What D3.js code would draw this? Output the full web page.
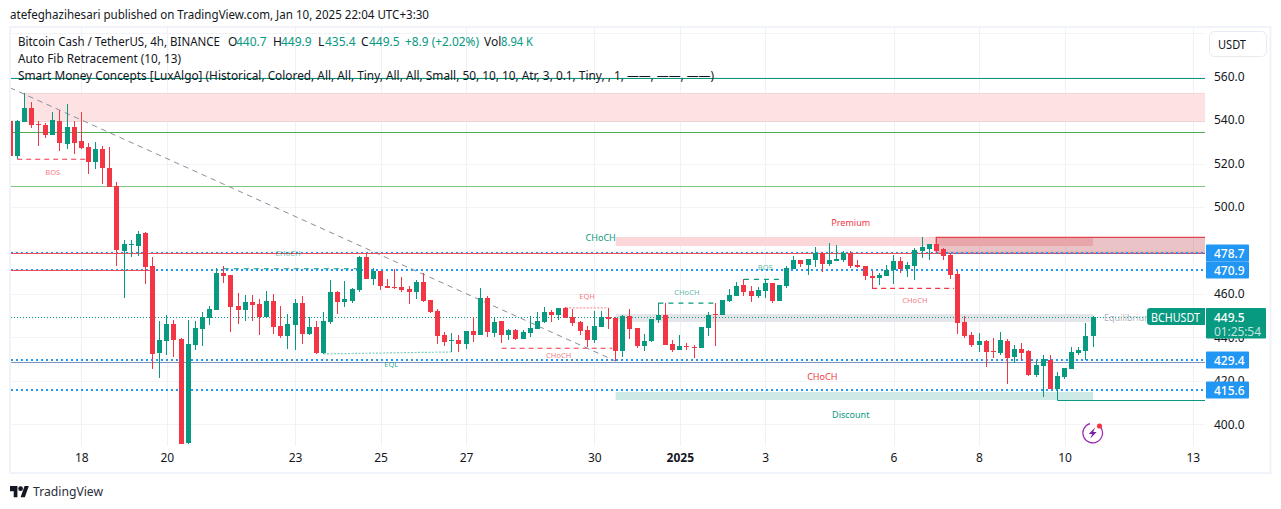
<!DOCTYPE html>
<html><head><meta charset="utf-8">
<script src="https://cdn.jsdelivr.net/npm/d3@7"></script>
<style>
html,body{margin:0;padding:0;background:#fff}
svg{display:block}
text{font-family:"Noto Sans","Open Sans",sans-serif}
</style></head><body><div id="c"></div>
<script>
const firstBar=-10;
const opens=[539.7,523.7,539.3,545.7,538.3,537.9,533.3,539.7,529.1,537.0,530.5,527.7,520.8,526.8,518.1,509.8,479.8,482.6,482.1,488.1,472.9,432.8,438.4,446.2,439.3,391.3,436.5,443.9,448.9,452.6,469.7,468.8,454.5,452.6,456.3,455.4,449.4,456.8,445.3,440.7,445.7,455.9,441.6,444.8,432.8,447.1,460.9,456.3,456.8,461.8,477.1,466.9,470.6,463.7,463.2,463.2,462.3,460.9,465.5,457.2,452.2,441.1,438.4,438.8,437.0,443.0,441.1,458.2,442.0,447.6,441.1,443.4,439.3,442.0,443.9,447.1,451.7,450.3,453.6,449.4,447.1,443.4,438.8,444.8,449.4,448.9,433.7,449.9,444.3,436.0,438.4,448.0,450.3,437.0,434.1,436.0,435.5,435.1,444.3,450.8,450.3,456.8,459.1,464.2,461.4,459.1,461.4,465.1,456.8,463.7,471.5,475.7,473.4,475.7,478.9,473.8,475.2,475.7,478.9,473.4,472.9,468.3,467.4,468.3,471.1,475.2,471.5,472.9,479.8,480.7,483.0,480.7,478.0,469.2,447.1,441.1,436.5,438.4,433.7,432.8,438.4,431.0,434.6,433.7,422.7,426.8,429.6,416.2,421.8,425.4,432.8,433.7,440.7];
const highs=[541.0,540.2,552.5,548.5,539.7,538.8,543.9,544.8,547.6,539.7,543.9,529.6,530.0,528.2,527.7,511.6,484.9,484.9,489.0,488.6,477.1,447.6,450.3,448.0,439.7,448.0,447.6,451.7,454.5,472.0,472.9,468.8,460.5,459.5,459.5,457.7,461.4,460.0,454.5,450.8,457.7,459.1,449.4,447.6,451.7,466.5,461.4,466.0,462.8,477.5,478.4,472.0,470.6,466.9,471.5,467.8,463.7,466.5,469.7,457.2,453.1,442.5,442.0,441.1,443.0,449.4,462.8,459.1,449.4,447.6,443.9,443.9,443.4,449.9,451.7,454.0,452.6,453.6,454.0,453.1,447.6,445.3,452.2,452.2,453.6,449.4,450.3,453.1,444.3,441.6,448.5,455.9,455.9,438.8,441.1,437.4,436.5,444.8,451.7,455.9,457.2,462.3,465.5,466.9,463.7,463.2,466.9,465.1,464.2,472.9,477.5,475.7,476.1,481.7,479.4,483.5,482.6,479.8,479.8,475.7,472.9,470.6,469.7,473.4,478.0,477.1,474.8,481.2,486.3,483.0,486.3,481.2,478.9,470.6,449.9,442.5,442.0,438.8,439.7,442.5,439.3,436.5,437.4,434.1,429.6,431.9,431.9,424.1,425.9,435.5,435.5,446.6,449.9];
const lows=[522.8,522.1,539.3,536.5,528.2,531.9,533.3,525.9,526.8,524.5,526.8,515.3,517.6,510.7,509.3,472.9,458.2,477.1,477.5,464.6,425.4,421.3,431.9,431.0,390.9,390.9,434.1,436.0,445.7,452.6,465.1,442.5,446.2,447.6,447.6,441.1,449.4,441.6,439.7,434.6,434.1,437.0,441.1,432.4,432.4,446.2,450.8,454.0,455.9,460.9,466.9,464.2,461.8,462.8,462.3,460.9,455.4,457.7,456.3,451.2,437.0,436.0,433.3,433.3,434.6,437.9,441.1,440.2,440.2,437.4,438.8,438.8,439.3,440.2,443.9,446.6,447.1,448.0,448.9,445.3,441.1,435.5,437.4,444.8,443.9,429.1,431.0,439.3,435.1,433.7,437.9,446.6,436.5,433.3,434.1,434.1,430.5,435.1,440.7,436.0,450.3,456.3,459.1,459.1,456.3,458.2,458.2,455.9,456.8,462.8,471.5,472.4,468.8,472.4,470.1,472.9,475.2,474.8,472.0,472.0,466.5,462.3,464.2,468.3,464.6,469.7,467.8,466.5,476.6,475.7,478.9,475.7,466.9,441.6,439.7,435.5,433.3,426.4,430.5,431.9,418.5,428.2,429.6,422.2,421.8,412.5,416.2,411.2,420.8,425.4,431.9,429.6,435.4];
const closes=[523.7,539.7,545.7,537.9,537.9,533.3,540.2,529.6,537.0,529.6,527.3,520.8,526.8,518.1,509.3,480.3,483.0,483.0,487.7,472.4,432.4,438.8,446.2,438.8,390.9,437.0,444.3,449.4,453.1,469.7,468.3,454.0,452.6,456.3,454.9,449.4,456.8,444.8,440.7,446.2,455.9,441.6,444.8,432.8,447.6,460.9,456.3,457.7,462.3,477.1,466.9,470.6,463.7,462.8,462.8,461.8,460.9,465.5,456.8,451.7,440.7,437.9,438.8,437.0,443.0,441.1,458.2,442.5,447.1,441.1,443.4,439.3,442.5,444.3,447.6,451.7,450.3,453.6,448.9,446.6,443.0,438.8,445.3,449.4,448.5,433.7,449.9,443.9,436.0,438.4,448.5,450.3,436.5,434.1,436.0,435.5,435.1,444.8,450.3,450.3,457.2,459.5,463.7,460.9,459.1,461.8,465.1,456.8,464.2,472.0,475.7,473.8,476.1,478.9,473.8,475.7,476.1,478.9,472.9,472.4,468.3,467.4,468.8,471.1,475.2,471.5,473.4,480.3,481.7,483.0,479.8,477.5,468.8,446.6,440.7,436.5,438.4,433.3,433.3,438.8,430.5,434.6,432.8,422.7,427.3,430.0,416.2,422.2,425.9,433.3,434.1,440.7,449.5];

const priceTicks=[400,420,440,460,500,520,540,560];
const gridPrices=[400,420,440,460,480,500,520,540,560,580];
const dayBars=[0,12,30,42,54,72,84,96,114,126,138,156];
const dayLabels=["18","20","23","25","27","30","2025","3","6","8","10","13"];

// horizontal levels: [price, colour]
const fibLevels=[[559.5,"#089981"],[534.6,"#4caf50"],[509.7,"#81c784"]];
const alertPrices=[478.7,470.9,429.4,415.6];
const alertLabels=["478.7","470.9","429.4","415.6"];
const equilibriumPrice=449.5;
// zones: [bar from, bar to, price top, price bottom, fill]
const zones=[
 [-8,"end",552.6,539.3,"#fce2e3"],
 [75,142,486.0,482.3,"#fcd7da"],
 [75,142,451.0,447.3,"#e3e5e8"],
 [75,142,415.0,411.3,"#cdeae6"]
];
// structure lines: [bar from, bar to, price, colour, dash]
const structure=[
 [-9,1,522.0,"#f23645","5 4"],
 [20,39,471.6,"#089981","5 5"],
 [59,74.5,435.0,"#f23645","5 4"],
 [81,89,455.8,"#089981","5 5"],
 [93,99,466.7,"#089981","5 5"],
 [111,122.5,462.6,"#f23645","5 4"]
];
const solid=[[137,"end",411.0,"#089981"]];
const redLevels=[[firstBar,10,470.9],[firstBar,120,478.7]];
const slateLevel=428.9;
// labels: [bar, price, text, colour, size, opacity]
const labels=[
 [-4,516,"BOS","#f23645",7.5,.7],
 [29,478.7,"CHoCH","#089981",7.5,.7],
 [43.5,427.8,"EQL","#089981",7.5,.85],
 [67,432,"CHoCH","#f23645",7.5,.7],
 [71,459,"EQH","#f23645",7.5,.7],
 [85,461,"CHoCH","#089981",7.5,.7],
 [96,472.3,"BOS","#089981",7.5,.7],
 [117,457,"CHoCH","#f23645",7.5,.7],
 [72.9,485.8,"CHoCH","#089981",9,1],
 [104,421.8,"CHoCH","#f23645",9,1],
 [108,493.1,"Premium","#f23645",9,1],
 [108,404.5,"Discount","#089981",9,1]
];

const W=1281,H=509,plotL=11,plotR=1205,plotT=28,plotB=446;
const x=d3.scaleLinear().domain([0,142]).range([81.3,1093]);
const y=d3.scaleLinear().domain([560,400]).range([76.7,424.3]);
const xEnd=v=>v==="end"?plotR:x(v);
const svg=d3.select("#c").append("svg").attr("width",W).attr("height",H).attr("viewBox",`0 0 ${W} ${H}`);
svg.append("defs").append("clipPath").attr("id","plot").append("rect").attr("x",plotL).attr("y",plotT).attr("width",plotR-plotL).attr("height",plotB-plotT);

// header
svg.append("text").attr("x",10).attr("y",19).attr("font-size",12).attr("fill","#131722").attr("textLength",419).attr("lengthAdjust","spacingAndGlyphs").text("atefeghazihesari published on TradingView.com, Jan 10, 2025 22:04 UTC+3:30");
svg.append("rect").attr("x",10).attr("y",27).attr("width",1260.5).attr("height",446).attr("fill","none").attr("stroke","#f0f3fa").attr("stroke-width",2);

// grid
const plot=svg.append("g").attr("clip-path","url(#plot)");
plot.selectAll("line.h").data(gridPrices).join("line").attr("class","h").attr("x1",plotL).attr("x2",plotR)
 .attr("y1",d=>Math.round(y(d))+.5).attr("y2",d=>Math.round(y(d))+.5).attr("stroke","#f2f3f6");
plot.selectAll("line.v").data(dayBars).join("line").attr("class","v").attr("y1",plotT).attr("y2",plotB)
 .attr("x1",d=>Math.round(x(d))+.5).attr("x2",d=>Math.round(x(d))+.5).attr("stroke","#f0f1f5");

// zones
plot.selectAll("rect.z").data(zones).join("rect").attr("class","z")
 .attr("x",d=>x(d[0])).attr("width",d=>xEnd(d[1])-x(d[0]))
 .attr("y",d=>Math.round(y(d[2]))).attr("height",d=>Math.round(y(d[3]))-Math.round(y(d[2]))).attr("fill",d=>d[4]);
plot.append("line").attr("x1",x(-8)).attr("x2",plotR).attr("y1",Math.round(y(552.6))+.5).attr("y2",Math.round(y(552.6))+.5).attr("stroke","#f6d3d5");
plot.append("line").attr("x1",x(-8)).attr("x2",plotR).attr("y1",Math.round(y(539.3))-.5).attr("y2",Math.round(y(539.3))-.5).attr("stroke","#eed3d5");

// red order block
plot.append("rect").attr("x",x(120)).attr("width",plotR-x(120)).attr("y",y(486.0)).attr("height",y(478.6)-y(486.0))
 .attr("fill","#b22833").attr("fill-opacity",.28);
plot.append("path").attr("d",`M${plotR},${y(486.0)}H${x(120)}V${y(478.7)}H${plotR}`).attr("fill","none").attr("stroke","#e2444f").attr("stroke-width",1.3);

// fib lines
plot.selectAll("line.f").data(fibLevels).join("line").attr("class","f").attr("x1",plotL).attr("x2",plotR)
 .attr("y1",d=>Math.round(y(d[0]))+.5).attr("y2",d=>Math.round(y(d[0]))+.5).attr("stroke",d=>d[1]);

// solid + structure
plot.selectAll("line.s").data(solid).join("line").attr("class","s").attr("x1",d=>xEnd(d[0])).attr("x2",d=>xEnd(d[1]))
 .attr("y1",d=>Math.round(y(d[2]))+.5).attr("y2",d=>Math.round(y(d[2]))+.5).attr("stroke",d=>d[3]);
plot.selectAll("line.d").data(structure).join("line").attr("class","d").attr("x1",d=>x(d[0])).attr("x2",d=>x(d[1]))
 .attr("y1",d=>y(d[2])).attr("y2",d=>y(d[2])).attr("stroke",d=>d[3]).attr("stroke-width",1.2).attr("stroke-dasharray",d=>d[4]);
// EQL / EQH
plot.append("line").attr("x1",x(34)).attr("x2",x(52)).attr("y1",y(432.4)).attr("y2",y(433.3)).attr("stroke","#7fcfbd").attr("stroke-width",1.2).attr("stroke-dasharray","2 1.5");
plot.append("line").attr("x1",x(68)).attr("x2",x(74)).attr("y1",y(453.6)).attr("y2",y(453.6)).attr("stroke","#f89aa2").attr("stroke-width",1.2).attr("stroke-dasharray","2 1.5");
// trend line
plot.append("line").attr("x1",x(firstBar)).attr("x2",x(75)).attr("y1",y(554.9)).attr("y2",y(429.1)).attr("stroke","#8b8e98").attr("stroke-width",1).attr("stroke-dasharray","5.5 4.5");

// level dots
plot.selectAll("line.a").data(alertPrices).join("line").attr("class","a").attr("x1",plotL).attr("x2",plotR)
 .attr("y1",d=>Math.round(y(d))).attr("y2",d=>Math.round(y(d))).attr("stroke","#2196f3").attr("stroke-width",2).attr("stroke-dasharray","2 3");
plot.append("line").attr("x1",plotL).attr("x2",plotR).attr("y1",Math.round(y(equilibriumPrice))+.5).attr("y2",Math.round(y(equilibriumPrice))+.5)
 .attr("stroke","#089981").attr("stroke-width",1).attr("stroke-dasharray","1 2").attr("shape-rendering","crispEdges");
// red and slate levels sit on the lower half of the dotted lines
plot.selectAll("line.r").data(redLevels).join("line").attr("class","r").attr("x1",d=>xEnd(d[0])).attr("x2",d=>xEnd(d[1]))
 .attr("y1",d=>Math.round(y(d[2]))+.5).attr("y2",d=>Math.round(y(d[2]))+.5).attr("stroke","#f04b58").attr("stroke-width",1.2);
plot.append("line").attr("x1",plotL).attr("x2",plotR).attr("y1",Math.round(y(slateLevel))+.5).attr("y2",Math.round(y(slateLevel))+.5).attr("stroke","#7d92c0").attr("stroke-width",1.2);

// candles
const bars=d3.range(opens.length).map(i=>({i:i+firstBar,o:opens[i],h:highs[i],l:lows[i],c:closes[i]}));
const col=d=>d.c>=d.o?"#089981":"#f23645";
const cg=plot.append("g").attr("shape-rendering","crispEdges");
cg.selectAll("rect.w").data(bars).join("rect").attr("class","w")
 .attr("x",d=>Math.round(x(d.i)-.5)).attr("width",1)
 .attr("y",d=>Math.round(y(d.h))).attr("height",d=>Math.max(1,Math.round(y(d.l))-Math.round(y(d.h)))).attr("fill",col);
cg.selectAll("rect.b").data(bars).join("rect").attr("class","b")
 .attr("x",d=>Math.round(x(d.i)-2.5)).attr("width",5)
 .attr("y",d=>Math.round(y(Math.max(d.o,d.c))))
 .attr("height",d=>Math.max(1,Math.round(y(Math.min(d.o,d.c)))-Math.round(y(Math.max(d.o,d.c))))).attr("fill",col);

// marker labels
svg.selectAll("text.l").data(labels).join("text").attr("class","l").attr("x",d=>x(d[0])).attr("y",d=>y(d[1]))
 .attr("text-anchor","middle").attr("dominant-baseline","central").attr("font-size",d=>d[4]).attr("fill",d=>d[3]).attr("fill-opacity",d=>d[5]).text(d=>d[2]);
svg.append("text").attr("x",1104).attr("y",y(449)).attr("dominant-baseline","central").attr("font-size",9).attr("fill","#b2b5be").text("Equilibrium");

// boost icon
const ic=svg.append("g").attr("transform","translate(1092.7,433)");
ic.append("path").attr("d",d3.arc()({innerRadius:9.2,outerRadius:10.4,startAngle:.9,endAngle:6.0})).attr("fill","#9c27b0");
ic.append("path").attr("d","M2.5,-5.5L-4,1H-0.5L-2.5,5.5L4,-1H0.5Z").attr("fill","#7b1fa2");
ic.append("circle").attr("cx",6.8).attr("cy",-7).attr("r",2.6).attr("fill","#f23645");

// axes
const ay=svg.append("g").attr("transform",`translate(1205,0)`).call(d3.axisRight(y).tickValues(priceTicks).tickSize(0).tickPadding(9).tickFormat(d3.format(".1f")));
ay.select(".domain").remove();
ay.selectAll("text").attr("font-size",12).attr("fill","#131722").attr("font-family",'"Noto Sans"');
const ax=svg.append("g").attr("transform",`translate(0,450)`).call(d3.axisBottom(x).tickValues(dayBars).tickSize(0).tickPadding(3).tickFormat((d,i)=>dayLabels[i]));
ax.select(".domain").remove();
ax.selectAll("text").attr("font-size",12).attr("fill","#131722").attr("font-family",'"Noto Sans"').attr("font-weight",(d,i)=>dayLabels[i]==="2025"?700:400);

// price tags
svg.selectAll("rect.t").data(alertPrices).join("rect").attr("class","t").attr("x",1206).attr("width",43)
 .attr("y",d=>Math.round(y(d))-8.5).attr("height",17).attr("rx",1).attr("fill","#2196f3");
svg.selectAll("text.t").data(alertLabels).join("text").attr("class","t").attr("x",1214).attr("y",(d,i)=>y(alertPrices[i])+.5)
 .attr("dominant-baseline","central").attr("font-size",12).attr("font-weight",500).attr("fill","#fff").text(d=>d);
svg.append("rect").attr("x",1206).attr("y",308).attr("width",60).attr("height",30.5).attr("rx",1).attr("fill","#089981");
svg.append("text").attr("x",1214).attr("y",317).attr("dominant-baseline","central").attr("font-size",12).attr("font-weight",500).attr("fill","#fff").text("449.5");
svg.append("text").attr("x",1214).attr("y",331).attr("dominant-baseline","central").attr("font-size",12).attr("fill","#fff").attr("fill-opacity",.75).attr("textLength",47).text("01:25:54");
svg.append("path").attr("d","M1205,308H1150a3,3 0 0 0 -3,3V322a3,3 0 0 0 3,3H1205Z").attr("fill","#089981");
svg.append("text").attr("x",1151).attr("y",317).attr("dominant-baseline","central").attr("font-size",12).attr("fill","#fff").attr("textLength",49).attr("lengthAdjust","spacingAndGlyphs").text("BCHUSDT");

// USDT button
svg.append("rect").attr("x",1209.5).attr("y",31.5).attr("width",57).attr("height",25).attr("rx",5).attr("fill","#fff").attr("stroke","#e8eaf0");
svg.append("text").attr("x",1218).attr("y",44.5).attr("dominant-baseline","central").attr("font-size",12).attr("fill","#131722").attr("textLength",28).attr("lengthAdjust","spacingAndGlyphs").text("USDT");

// legend
const green="#089981",ink="#131722";
const leg=[[18,"Bitcoin Cash / TetherUS, 4h, BINANCE",ink,202],[228,"O",ink,0],[236,"440.7",green,0],[273,"H",ink,0],[281,"449.9",green,0],[318,"L",ink,0],[325,"435.4",green,0],[361,"C",ink,0],[369,"449.5",green,0],[405,"+8.9 (+2.02%)",green,74],[484,"Vol",ink,0],[501,"8.94 K",green,32]];
svg.selectAll("text.g").data(leg).join("text").attr("class","g").attr("x",d=>d[0]).attr("y",46).attr("font-size",12).attr("fill",d=>d[2])
 .each(function(d){ if(d[3]) d3.select(this).attr("textLength",d[3]).attr("lengthAdjust","spacingAndGlyphs"); }).text(d=>d[1]);
svg.append("text").attr("x",18).attr("y",63).attr("font-size",12).attr("fill",ink).attr("textLength",163).attr("lengthAdjust","spacingAndGlyphs").text("Auto Fib Retracement (10, 13)");
svg.append("text").attr("x",18).attr("y",80).attr("font-size",12).attr("fill",ink).attr("textLength",696).attr("lengthAdjust","spacingAndGlyphs").text("Smart Money Concepts [LuxAlgo] (Historical, Colored, All, All, Tiny, All, All, Small, 50, 10, 10, Atr, 3, 0.1, Tiny, , 1, ——, ——, ——)");

// footer logo
const lg=svg.append("g").attr("transform","translate(10,485.5) scale(.53)").attr("fill","#131722");
lg.append("path").attr("d","M14 22H7V11H0V1h14v21zM28 22h-8l7.5-21h8L28 22z");
lg.append("circle").attr("cx",20).attr("cy",6).attr("r",4.5);
svg.append("text").attr("x",33).attr("y",496).attr("font-size",13).attr("fill","#2a2e39").attr("textLength",70).attr("lengthAdjust","spacingAndGlyphs").text("TradingView");
</script></body></html>
